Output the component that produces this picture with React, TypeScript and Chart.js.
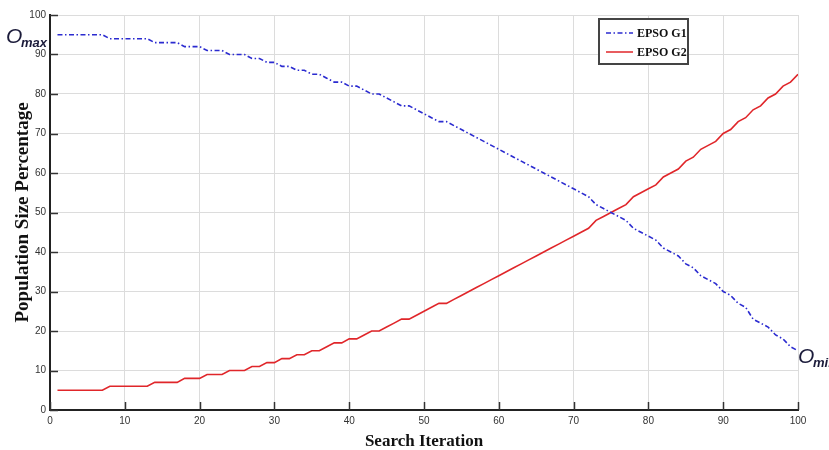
import React, { useEffect, useRef } from "react";
import { Chart, registerables } from "chart.js";

Chart.register(...registerables);

const iterations = [
  1, 2, 3, 4, 5, 6, 7, 8, 9, 10, 11, 12, 13, 14, 15, 16, 17, 18, 19, 20,
  21, 22, 23, 24, 25, 26, 27, 28, 29, 30, 31, 32, 33, 34, 35, 36, 37, 38, 39, 40,
  41, 42, 43, 44, 45, 46, 47, 48, 49, 50, 51, 52, 53, 54, 55, 56, 57, 58, 59, 60,
  61, 62, 63, 64, 65, 66, 67, 68, 69, 70, 71, 72, 73, 74, 75, 76, 77, 78, 79, 80,
  81, 82, 83, 84, 85, 86, 87, 88, 89, 90, 91, 92, 93, 94, 95, 96, 97, 98, 99, 100,
];

const epsoG1 = [
  95, 95, 95, 95, 95, 95, 95, 94, 94, 94, 94, 94, 94, 93, 93, 93, 93, 92, 92, 92,
  91, 91, 91, 90, 90, 90, 89, 89, 88, 88, 87, 87, 86, 86, 85, 85, 84, 83, 83, 82,
  82, 81, 80, 80, 79, 78, 77, 77, 76, 75, 74, 73, 73, 72, 71, 70, 69, 68, 67, 66,
  65, 64, 63, 62, 61, 60, 59, 58, 57, 56, 55, 54, 52, 51, 50, 49, 48, 46, 45, 44,
  43, 41, 40, 39, 37, 36, 34, 33, 32, 30, 29, 27, 26, 23, 22, 21, 19, 18, 16, 15,
];

const epsoG2 = [
  5, 5, 5, 5, 5, 5, 5, 6, 6, 6, 6, 6, 6, 7, 7, 7, 7, 8, 8, 8,
  9, 9, 9, 10, 10, 10, 11, 11, 12, 12, 13, 13, 14, 14, 15, 15, 16, 17, 17, 18,
  18, 19, 20, 20, 21, 22, 23, 23, 24, 25, 26, 27, 27, 28, 29, 30, 31, 32, 33, 34,
  35, 36, 37, 38, 39, 40, 41, 42, 43, 44, 45, 46, 48, 49, 50, 51, 52, 54, 55, 56,
  57, 59, 60, 61, 63, 64, 66, 67, 68, 70, 71, 73, 74, 76, 77, 79, 80, 82, 83, 85,
];

const seriesLabels = ["EPSO G1", "EPSO G2"];
const xTitle = "Search Iteration";
const yTitle = "Population Size Percentage";

const BLUE = "#2b2bd0";
const RED = "#e0262a";
const BLUE_DASH = [5, 2.5, 1.5, 2.5];

const inwardTicks = {
  id: "inwardTicks",
  afterDatasetsDraw(chart: any) {
    const { ctx, scales, chartArea } = chart;
    ctx.save();
    ctx.strokeStyle = "#333";
    ctx.lineWidth = 1.5;
    const xs = scales.x;
    xs.ticks.forEach((t: any) => {
      const px = Math.round(xs.getPixelForValue(t.value)) + 0.5;
      ctx.beginPath();
      ctx.moveTo(px, chartArea.bottom);
      ctx.lineTo(px, chartArea.bottom - 8);
      ctx.stroke();
    });
    const ys = scales.y;
    ys.ticks.forEach((t: any) => {
      const py = Math.round(ys.getPixelForValue(t.value)) + 0.5;
      ctx.beginPath();
      ctx.moveTo(chartArea.left, py);
      ctx.lineTo(chartArea.left + 8, py);
      ctx.stroke();
    });
    ctx.restore();
  },
};

const boxLegend = {
  id: "boxLegend",
  afterDraw(chart: any) {
    const { ctx } = chart;
    ctx.save();
    const bx = 599, by = 19, bw = 89, bh = 45;
    ctx.fillStyle = "#fff";
    ctx.fillRect(bx, by, bw, bh);
    ctx.strokeStyle = "#444";
    ctx.lineWidth = 2;
    ctx.strokeRect(bx, by, bw, bh);
    const rows = [by + 14, by + 33];
    chart.data.datasets.forEach((ds: any, i: number) => {
      ctx.beginPath();
      ctx.strokeStyle = ds.borderColor;
      ctx.lineWidth = 1.5;
      ctx.setLineDash(ds.borderDash || []);
      ctx.moveTo(bx + 7, rows[i]);
      ctx.lineTo(bx + 34, rows[i]);
      ctx.stroke();
      ctx.setLineDash([]);
      ctx.fillStyle = "#111";
      ctx.font = "bold 12px 'Liberation Serif'";
      ctx.textBaseline = "middle";
      ctx.textAlign = "left";
      ctx.fillText(ds.label, bx + 38, rows[i] + 1);
    });
    ctx.restore();
  },
};

const oLabels = {
  id: "oLabels",
  afterDraw(chart: any) {
    const { ctx } = chart;
    ctx.save();
    ctx.fillStyle = "#1b1b3a";
    ctx.textBaseline = "alphabetic";
    ctx.textAlign = "left";
    ctx.font = "italic 21px 'Liberation Sans'";
    ctx.fillText("O", 6, 43);
    ctx.font = "bold italic 13px 'Liberation Sans'";
    ctx.fillText("max", 21, 47);
    ctx.font = "italic 21px 'Liberation Sans'";
    ctx.fillText("O", 798, 363);
    ctx.font = "bold italic 13px 'Liberation Sans'";
    ctx.fillText("min", 813, 367);
    ctx.restore();
  },
};

export default function App() {
  const canvasRef = useRef<HTMLCanvasElement | null>(null);

  useEffect(() => {
    document.body.style.margin = "0";
    const canvas = canvasRef.current;
    if (!canvas) return;
    const tickFont = { family: "'Liberation Sans'", size: 10 };
    const chart = new Chart(canvas, {
      type: "line",
      data: {
        datasets: [
          {
            label: seriesLabels[0],
            data: iterations.map((x, i) => ({ x, y: epsoG1[i] })),
            borderColor: BLUE,
            backgroundColor: BLUE,
            borderWidth: 1.6,
            borderDash: BLUE_DASH,
            pointRadius: 0,
            tension: 0,
          },
          {
            label: seriesLabels[1],
            data: iterations.map((x, i) => ({ x, y: epsoG2[i] })),
            borderColor: RED,
            backgroundColor: RED,
            borderWidth: 1.6,
            pointRadius: 0,
            tension: 0,
          },
        ],
      },
      options: {
        animation: false,
        responsive: false,
        maintainAspectRatio: false,
        layout: { padding: { top: 15, right: 31, left: 0, bottom: 0 } },
        plugins: {
          legend: { display: false },
          tooltip: { enabled: false },
        },
        scales: {
          x: {
            type: "linear",
            min: 0,
            max: 100,
            ticks: { stepSize: 10, color: "#333", font: tickFont, padding: 5, maxRotation: 0 },
            grid: { color: "#dcdcdc", lineWidth: 1, drawTicks: false },
            border: { display: true, color: "#222", width: 2 },
            title: {
              display: true,
              text: xTitle,
              color: "#111",
              font: { family: "'Liberation Serif'", size: 17, weight: "bold" },
              padding: { top: 2, bottom: -2 },
            },
            afterFit: (s: any) => {
              s.height = 40;
            },
          },
          y: {
            min: 0,
            max: 100,
            ticks: { stepSize: 10, color: "#333", font: tickFont, padding: 4 },
            grid: { color: "#dcdcdc", lineWidth: 1, drawTicks: false },
            border: { display: true, color: "#222", width: 2 },
            title: {
              display: true,
              text: yTitle,
              color: "#111",
              font: { family: "'Liberation Serif'", size: 19, weight: "bold" },
              padding: { top: 12, bottom: 0 },
            },
            afterFit: (s: any) => {
              s.width = 50;
            },
          },
        },
      },
      plugins: [inwardTicks, boxLegend, oLabels],
    });
    return () => chart.destroy();
  }, []);

  return (
    <div style={{ width: 829, height: 450 }}>
      <canvas ref={canvasRef} width={829} height={450} style={{ display: "block" }} />
    </div>
  );
}
